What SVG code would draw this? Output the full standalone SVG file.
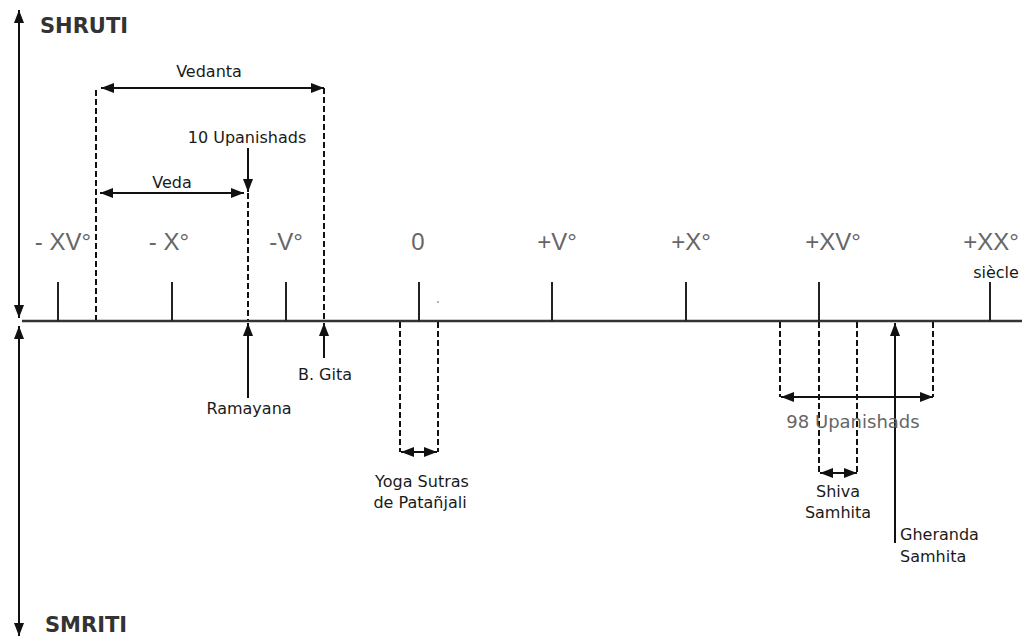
<svg xmlns="http://www.w3.org/2000/svg" width="1022" height="637" viewBox="0 0 1022 637">
<style>
.ln{stroke:#111;stroke-width:2;fill:none}
.da{stroke:#111;stroke-width:2;fill:none;stroke-dasharray:6 3}
.ar{marker-end:url(#ah)}
.dbl{marker-start:url(#ah);marker-end:url(#ah)}
.tk{stroke:#222;stroke-width:2}
.lab{font-family:"DejaVu Sans",Verdana,sans-serif;font-size:16px;fill:#1a1a1a;text-anchor:middle}
.era{font-family:"Liberation Sans",Arial,sans-serif;font-size:24px;fill:#666;text-anchor:middle}
.big{font-family:"DejaVu Sans",Verdana,sans-serif;font-weight:bold;font-size:21px;fill:#333}
</style>
<defs>
<marker id="ah" viewBox="0 0 13 10" refX="13" refY="5" markerWidth="13" markerHeight="10" markerUnits="userSpaceOnUse" orient="auto-start-reverse">
<path d="M0,0 L13,5 L0,10 z" fill="#111"/>
</marker>
</defs>
<rect width="1022" height="637" fill="#fff"/>

<g id="axes">
<line class="ln dbl" x1="19" y1="10" x2="19" y2="318"/>
<line class="ln dbl" x1="19" y1="326" x2="19" y2="636"/>
<line x1="22" y1="321" x2="1022" y2="321" stroke="#333" stroke-width="2.5"/>
<text class="big" x="40" y="33">SHRUTI</text>
<text class="big" x="45" y="632">SMRITI</text>
</g>

<g id="ticks">
<line class="tk" x1="58" y1="282" x2="58" y2="321"/>
<line class="tk" x1="172" y1="282" x2="172" y2="321"/>
<line class="tk" x1="286" y1="282" x2="286" y2="321"/>
<line class="tk" x1="419" y1="282" x2="419" y2="321" stroke-width="3"/>
<line class="tk" x1="552" y1="282" x2="552" y2="321"/>
<line class="tk" x1="686" y1="282" x2="686" y2="321"/>
<line class="tk" x1="819" y1="282" x2="819" y2="321"/>
<line class="tk" x1="990" y1="282" x2="990" y2="321"/>
<circle cx="438" cy="302" r="1" fill="#999"/>
<text class="era" x="63" y="250">- XV°</text>
<text class="era" x="169" y="250">- X°</text>
<text class="era" x="286" y="250">-V°</text>
<text class="era" x="418" y="250">0</text>
<text class="era" x="557" y="250">+V°</text>
<text class="era" x="691" y="250">+X°</text>
<text class="era" x="833" y="250">+XV°</text>
<text class="era" x="991" y="250">+XX°</text>
<text class="lab" x="996" y="278">siècle</text>
</g>

<g id="connectors">
<line class="da" x1="96" y1="90" x2="96" y2="320"/>
<line class="da" x1="324" y1="88" x2="324" y2="320"/>
<line class="da" x1="248" y1="193" x2="248" y2="320"/>
<line class="da" x1="400" y1="322" x2="400" y2="452"/>
<line class="da" x1="438" y1="322" x2="438" y2="452"/>
<line class="da" x1="780" y1="322" x2="780" y2="397"/>
<line class="da" x1="819" y1="322" x2="819" y2="473"/>
<line class="da" x1="857" y1="322" x2="857" y2="473"/>
<line class="da" x1="933" y1="322" x2="933" y2="397"/>
<line class="ln dbl" x1="101" y1="88" x2="324" y2="88"/>
<line class="ln dbl" x1="100" y1="193" x2="244" y2="193"/>
<line class="ln ar" x1="248" y1="148" x2="248" y2="192"/>
<line class="ln ar" x1="248" y1="398" x2="248" y2="323"/>
<line class="ln ar" x1="324" y1="358" x2="324" y2="323"/>
<line class="ln dbl" x1="401" y1="452" x2="437" y2="452"/>
<line class="ln dbl" x1="781" y1="397" x2="933" y2="397"/>
<line class="ln dbl" x1="820" y1="473" x2="857" y2="473"/>
<line class="ln ar" x1="895" y1="543" x2="895" y2="323"/>
</g>

<g id="vedanta"><text class="lab" x="209" y="77">Vedanta</text></g>
<g id="veda"><text class="lab" x="172" y="188">Veda</text></g>
<g id="upanishads10"><text class="lab" x="247" y="143">10 Upanishads</text></g>
<g id="ramayana"><text class="lab" x="249" y="414">Ramayana</text></g>
<g id="bgita"><text class="lab" x="325" y="380">B. Gita</text></g>
<g id="yoga"><text class="lab" x="422" y="487">Yoga Sutras</text><text class="lab" x="420" y="508">de Patañjali</text></g>
<g id="upanishads98"><text class="lab" x="853" y="428" style="fill:#666;font-size:18px">98 Upanishads</text></g>
<g id="shiva"><text class="lab" x="838" y="497">Shiva</text><text class="lab" x="838" y="518">Samhita</text></g>
<g id="gheranda"><text class="lab" x="900" y="540" style="text-anchor:start">Gheranda</text><text class="lab" x="900" y="562" style="text-anchor:start">Samhita</text></g>
</svg>
